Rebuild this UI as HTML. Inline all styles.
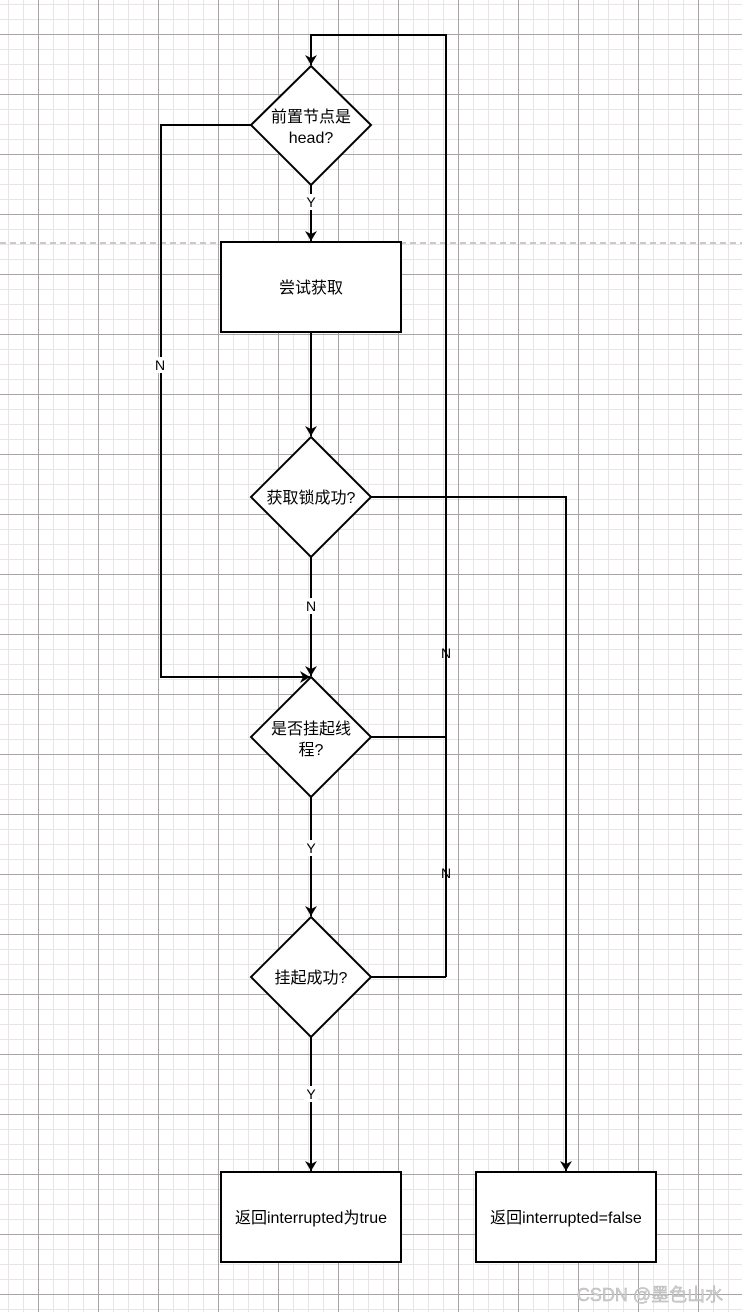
<!DOCTYPE html>
<html><head><meta charset="utf-8"><style>html,body{margin:0;padding:0;background:#fff}svg{display:block}</style></head>
<body>
<svg width="742" height="1312" xmlns="http://www.w3.org/2000/svg" font-family="Liberation Sans, Noto Sans CJK SC, sans-serif">
<defs>
<pattern id="minor" x="8" y="4" width="15" height="15" patternUnits="userSpaceOnUse">
<path d="M0 0V15M0 0H15" stroke="#e8e4e8" stroke-width="2" fill="none"/></pattern>
<pattern id="major" x="38" y="34" width="60" height="60" patternUnits="userSpaceOnUse">
<path d="M0.5 0V60M0 0.5H60" stroke="#a8a4a8" stroke-width="1" fill="none"/></pattern>
<marker id="ar" markerWidth="12" markerHeight="12" refX="10" refY="6" orient="auto" markerUnits="userSpaceOnUse">
<path d="M0 0L10 6L0 12L3 6Z" fill="#000"/></marker>
</defs>
<rect width="742" height="1312" fill="#fff"/>
<rect width="742" height="1312" fill="url(#minor)"/>
<rect width="742" height="1312" fill="url(#major)"/>
<line x1="0" y1="243" x2="742" y2="243" stroke="#b8b8b8" stroke-width="1.5" stroke-dasharray="6,4"/>
<g stroke="#000" stroke-width="2" fill="none">
<polyline points="446,977 446,35 311,35 311,65" marker-end="url(#ar)"/>
<polyline points="251,125 161,125 161,677 310,677" marker-end="url(#ar)"/>
<line x1="311" y1="185" x2="311" y2="241" marker-end="url(#ar)"/>
<line x1="311" y1="332" x2="311" y2="436" marker-end="url(#ar)"/>
<line x1="311" y1="557" x2="311" y2="676" marker-end="url(#ar)"/>
<polyline points="371,497 566,497 566,1171" marker-end="url(#ar)"/>
<line x1="371" y1="737" x2="446" y2="737"/>
<line x1="371" y1="977" x2="446" y2="977"/>
<line x1="311" y1="797" x2="311" y2="916" marker-end="url(#ar)"/>
<line x1="311" y1="1037" x2="311" y2="1171" marker-end="url(#ar)"/>
</g>
<g stroke="#000" stroke-width="2" fill="#fff">
<polygon points="311,66 371,125 311,185 251,125"/>
<rect x="221" y="242" width="180" height="90"/>
<polygon points="311,437 371,497 311,557 251,497"/>
<polygon points="311,677 371,737 311,797 251,737"/>
<polygon points="311,917 371,977 311,1037 251,977"/>
<rect x="221" y="1172" width="180" height="90"/>
<rect x="476" y="1172" width="180" height="90"/>
</g>
<g font-size="16" fill="#000" text-anchor="middle">
<text x="311" y="122">前置节点是</text>
<text x="311" y="143">head?</text>
<text x="311" y="293">尝试获取</text>
<text x="311" y="503">获取锁成功?</text>
<text x="311" y="734">是否挂起线</text>
<text x="311" y="755">程?</text>
<text x="311" y="983">挂起成功?</text>
<text x="311" y="1223">返回interrupted为true</text>
<text x="566" y="1223">返回interrupted=false</text>
</g>
<g font-size="14" text-anchor="middle">
<rect x="304" y="194" width="14" height="16" fill="#fff"/><text x="311" y="207">Y</text>
<rect x="153" y="357" width="14" height="16" fill="#fff"/><text x="160" y="370">N</text>
<rect x="304" y="598" width="14" height="16" fill="#fff"/><text x="311" y="611">N</text>
<text x="446" y="658">N</text>
<rect x="304" y="840" width="14" height="16" fill="#fff"/><text x="311" y="853">Y</text>
<text x="446" y="878">N</text>
<rect x="304" y="1086" width="14" height="16" fill="#fff"/><text x="311" y="1099">Y</text>
</g>
<text x="650" y="1301" font-size="18" text-anchor="middle" fill="#d0d0d0" stroke="#b0b0b0" stroke-width="0.4">CSDN @墨色山水</text>
</svg>
</body></html>
